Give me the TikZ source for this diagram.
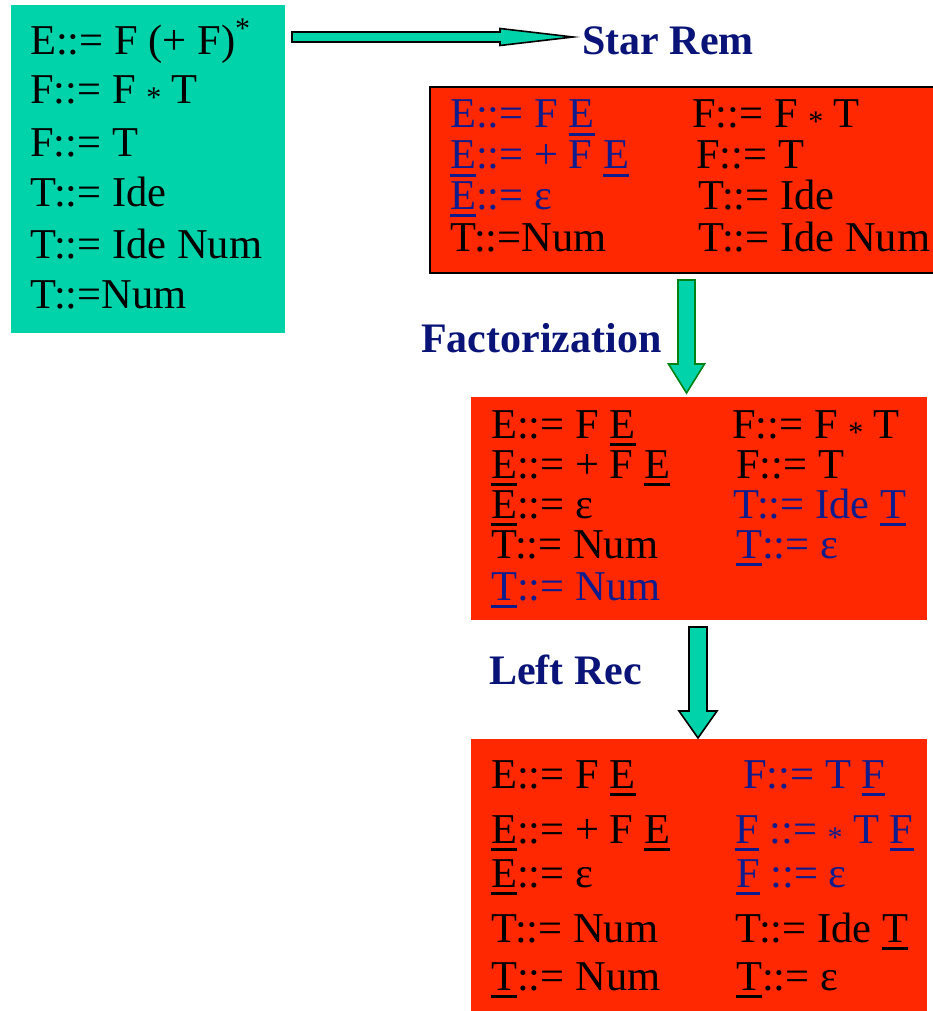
\documentclass[tikz,border=0pt]{standalone}
\usepackage{fontspec}
\setmainfont{Liberation Serif}
\usetikzlibrary{calc}

\definecolor{boxgreen}{RGB}{0,210,170}
\definecolor{boxred}{RGB}{255,40,0}
\definecolor{prodblue}{RGB}{16,28,140}
\definecolor{labelblue}{RGB}{10,20,120}
\definecolor{edgegreen}{RGB}{0,130,20}

% underlined nonterminal (the "primed" symbols of the transformed grammar)
\newcommand\undl[1]{\setbox0\hbox{#1}\rlap{\rule[-8pt]{\wd0}{2.6pt}}\box0\relax}
% small centred star used as the product operator
\newcommand\opstar{\raisebox{-4pt}{\fontsize{30}{30}\selectfont *}}
% Kleene star
\newcommand\supstar{\raisebox{16pt}{\fontsize{30}{30}\selectfont *}}

\tikzset{
  prod/.style={anchor=base west, inner sep=0pt, font=\fontsize{42.5}{42.5}\selectfont},
  newprod/.style={prod, text=prodblue},
  lbl/.style={anchor=base west, inner sep=0pt, font=\fontsize{42}{42}\selectfont\bfseries, text=labelblue},
  panel/.style={anchor=north west, inner sep=0pt, outer sep=0pt},
  blockarrow/.style={fill=boxgreen, draw=black, line width=1.6pt, line join=miter},
}

% vertical block arrow: #1 options, #2 top of shaft, #3 tip,
% #4 shaft half width, #5 head half width, #6 head length
\newcommand\droparrow[6]{%
  \draw[blockarrow,#1] let \p1=(#2), \p2=(#3) in
    (\x1-#4,\y1) -- (\x1+#4,\y1) -- (\x1+#4,\y2+#6) -- (\x1+#5,\y2+#6)
    -- (\x2,\y2) -- (\x1-#5,\y2+#6) -- (\x1-#4,\y2+#6) -- cycle;}

\begin{document}
\begin{tikzpicture}[x=1pt,y=-1pt]
\useasboundingbox (0,0) rectangle (933,1011);

% ---------- original grammar ----------
\node[panel, fill=boxgreen, minimum width=274pt, minimum height=328pt] (src) at (11,5) {};
\node[prod] (g1) at (30,55)  {E::= F (+ F)\supstar};
\node[prod] (g2) at (30,104) {F::= F \opstar{} T};
\node[prod] (g3) at (30,157) {F::= T};
\node[prod] (g4) at (30,207) {T::= Ide};
\node[prod] (g5) at (30,258) {T::= Ide Num};
\node[prod] (g6) at (30,308) {T::=Num};

% ---------- after star removal ----------
\node[panel, fill=boxred, draw=black, line width=2.6pt, minimum width=520pt, minimum height=186pt] (sr) at (430,87) {};
\node[newprod] (s1) at (450,128) {E::= F \undl{E}};
\node[newprod] (s2) at (450,169) {\undl{E}::= + F \undl{E}};
\node[newprod] (s3) at (450,209) {\undl{E}::= ε};
\node[prod]    (s4) at (450,251) {T::=Num};
\node[prod]    (s5) at (692,128) {F::= F \opstar{} T};
\node[prod]    (s6) at (696,169) {F::= T};
\node[prod]    (s7) at (698,209) {T::= Ide};
\node[prod]    (s8) at (698,251) {T::= Ide Num};

% ---------- after factorization ----------
\node[panel, fill=boxred, minimum width=456pt, minimum height=223pt] (fa) at (471,397) {};
\node[prod]    (f1) at (491,438) {E::= F \undl{E}};
\node[prod]    (f2) at (491,478) {\undl{E}::= + F \undl{E}};
\node[prod]    (f3) at (491,518) {\undl{E}::= ε};
\node[prod]    (f4) at (491,558) {T::= Num};
\node[newprod] (f5) at (491,600) {\undl{T}::= Num};
\node[prod]    (f6) at (732,438) {F::= F \opstar{} T};
\node[prod]    (f7) at (736,478) {F::= T};
\node[newprod] (f8) at (733,518) {T::= Ide \undl{T}};
\node[newprod] (f9) at (736,558) {\undl{T}::= ε};

% ---------- after left recursion removal ----------
\node[panel, fill=boxred, minimum width=456pt, minimum height=275pt] (lr) at (471,739) {};
\node[prod]    (l1) at (491,788) {E::= F \undl{E}};
\node[prod]    (l2) at (491,843) {\undl{E}::= + F \undl{E}};
\node[prod]    (l3) at (491,887) {\undl{E}::= ε};
\node[prod]    (l4) at (491,942) {T::= Num};
\node[prod]    (l5) at (491,990) {\undl{T}::= Num};
\node[newprod] (l6) at (743,788) {F::= T \undl{F}};
\node[newprod] (l7) at (735,843) {\undl{F} ::= \opstar{} T \undl{F}};
\node[newprod] (l8) at (736,887) {\undl{F} ::= ε};
\node[prod]    (l9) at (735,942) {T::= Ide \undl{T}};
\node[prod]    (l10) at (736,990) {\undl{T}::= ε};

% ---------- step labels ----------
\node[lbl] (starlbl) at (582,55)  {Star Rem};
\node[lbl] (faclbl)  at (421,352) {Factorization};
\node[lbl] (reclbl)  at (489,684) {Left Rec};

% ---------- arrows ----------
\coordinate (a1s) at (292,37);
\coordinate (a1e) at ($(starlbl.base west)+(-9,-18)$);
\draw[blockarrow] let \p1=(a1s), \p2=(a1e) in
  (\x1,\y1+5pt) -- (\x2-73pt,\y1+5pt) -- (\x2-73pt,\y1+8.5pt) -- (\x2,\y2)
  -- (\x2-73pt,\y1-8.5pt) -- (\x2-73pt,\y1-5pt) -- (\x1,\y1-5pt) -- cycle;

\coordinate (a2s) at (686.5,280);
\coordinate (a2e) at (686.5,393);
\droparrow{draw=edgegreen}{a2s}{a2e}{8.5pt}{18pt}{29pt}

\coordinate (a3s) at (698,627);
\coordinate (a3e) at (698,738);
\droparrow{}{a3s}{a3e}{9pt}{19pt}{27pt}
\end{tikzpicture}
\end{document}
